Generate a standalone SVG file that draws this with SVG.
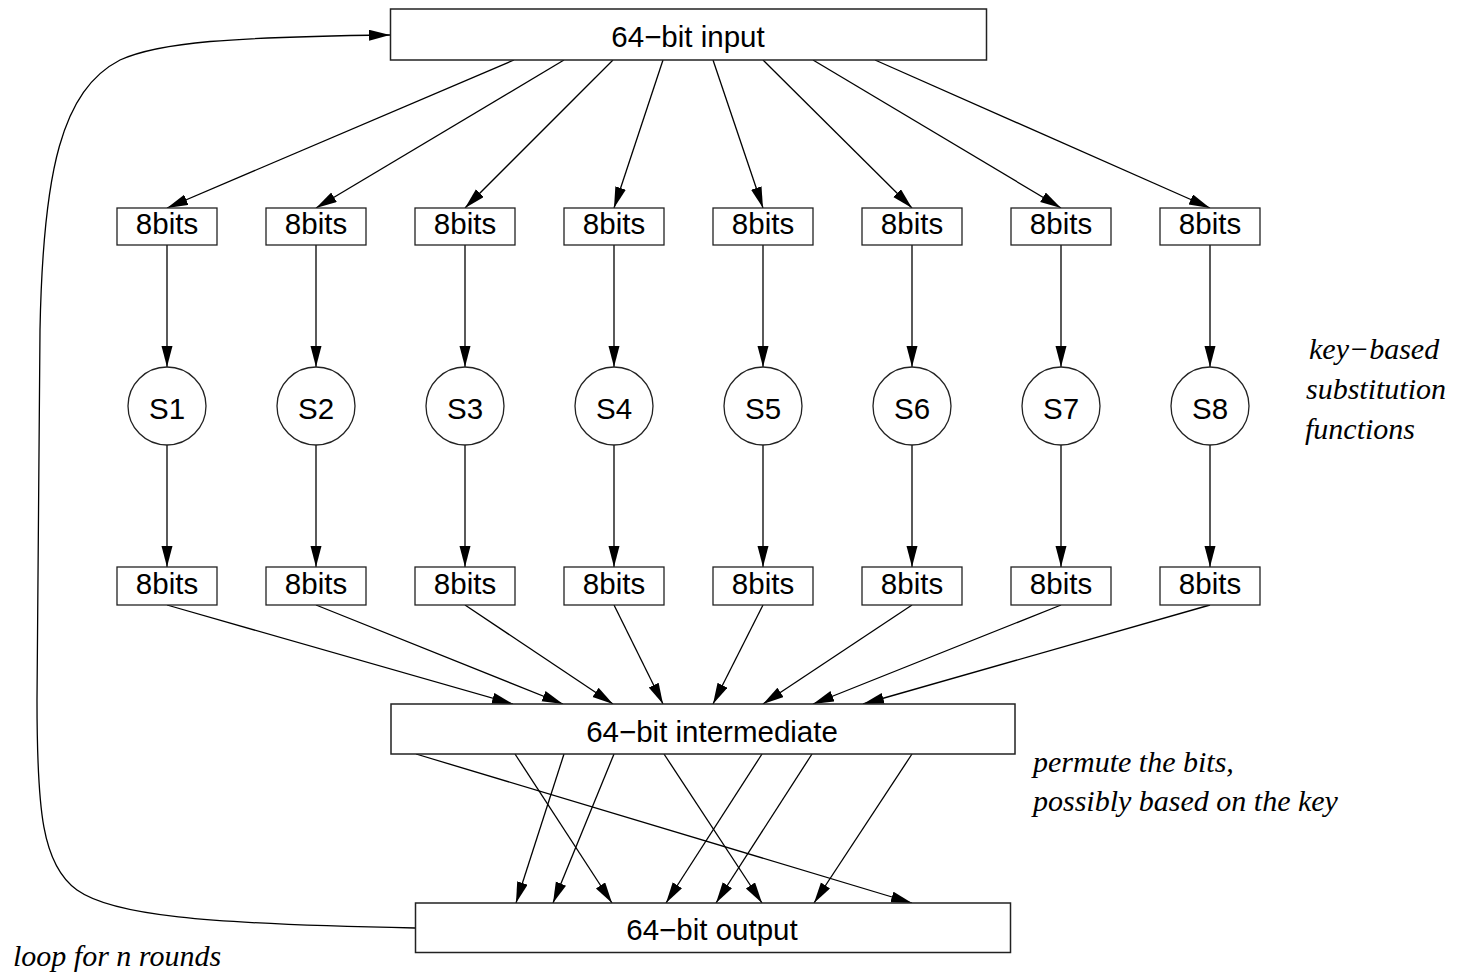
<svg xmlns="http://www.w3.org/2000/svg" width="1457" height="974" viewBox="0 0 1457 974">
<style>
.box{fill:#fff;stroke:#222;stroke-width:1.5}
.sb{fill:#fff;stroke:#222;stroke-width:1.3}
.lbl{font-family:"Liberation Sans",Arial,sans-serif;font-size:29.5px;fill:#000;text-anchor:middle}
.note{font-family:"Liberation Serif","Times New Roman",serif;font-style:italic;font-size:30px;fill:#000}
.c{fill:none;stroke:#000;stroke-width:1.3;marker-end:url(#ah)}
</style>
<defs>
<marker id="ah" markerUnits="userSpaceOnUse" markerWidth="22" markerHeight="12" refX="21" refY="5.5" orient="auto">
<path d="M0,0 L21,5.5 L0,11 z" fill="#000"/>
</marker>
</defs>
<rect width="1457" height="974" fill="#fff"/>
<g id="connectors">
<path class="c" d="M415,928 C200,924 112,915 77,890 C42,865 37,810 37,700 L40,330 C43,170 62,90 120,60 C160,42 230,37 390,35"/>
<path class="c" d="M514,60 L167,208"/>
<path class="c" d="M564,60 L316,208"/>
<path class="c" d="M613,60 L465,208"/>
<path class="c" d="M663,60 L614,208"/>
<path class="c" d="M713,60 L763,208"/>
<path class="c" d="M763,60 L912,208"/>
<path class="c" d="M813,60 L1061,208"/>
<path class="c" d="M875,60 L1210,208"/>
<path class="c" d="M167,245 L167,367"/>
<path class="c" d="M316,245 L316,367"/>
<path class="c" d="M465,245 L465,367"/>
<path class="c" d="M614,245 L614,367"/>
<path class="c" d="M763,245 L763,367"/>
<path class="c" d="M912,245 L912,367"/>
<path class="c" d="M1061,245 L1061,367"/>
<path class="c" d="M1210,245 L1210,367"/>
<path class="c" d="M167,445 L167,567"/>
<path class="c" d="M316,445 L316,567"/>
<path class="c" d="M465,445 L465,567"/>
<path class="c" d="M614,445 L614,567"/>
<path class="c" d="M763,445 L763,567"/>
<path class="c" d="M912,445 L912,567"/>
<path class="c" d="M1061,445 L1061,567"/>
<path class="c" d="M1210,445 L1210,567"/>
<path class="c" d="M167,605 L513,704"/>
<path class="c" d="M316,605 L563,704"/>
<path class="c" d="M465,605 L613,704"/>
<path class="c" d="M614,605 L663,704"/>
<path class="c" d="M763,605 L713,704"/>
<path class="c" d="M912,605 L763,704"/>
<path class="c" d="M1061,605 L813,704"/>
<path class="c" d="M1210,605 L863,704"/>
<path class="c" d="M416,754 L912,903"/>
<path class="c" d="M515,754 L612,903"/>
<path class="c" d="M564,754 L516,903"/>
<path class="c" d="M614,754 L553,903"/>
<path class="c" d="M664,754 L762,903"/>
<path class="c" d="M762,754 L666,903"/>
<path class="c" d="M812,754 L716,903"/>
<path class="c" d="M912,754 L814,903"/>
</g>
<g id="input"><rect class="box" x="390.5" y="9" width="596" height="51"/><text class="lbl" x="688" y="47">64−bit input</text></g>
<g id="in1"><rect class="sb" x="117" y="208" width="100" height="37"/><text class="lbl" x="167" y="234">8bits</text></g>
<g id="in2"><rect class="sb" x="266" y="208" width="100" height="37"/><text class="lbl" x="316" y="234">8bits</text></g>
<g id="in3"><rect class="sb" x="415" y="208" width="100" height="37"/><text class="lbl" x="465" y="234">8bits</text></g>
<g id="in4"><rect class="sb" x="564" y="208" width="100" height="37"/><text class="lbl" x="614" y="234">8bits</text></g>
<g id="in5"><rect class="sb" x="713" y="208" width="100" height="37"/><text class="lbl" x="763" y="234">8bits</text></g>
<g id="in6"><rect class="sb" x="862" y="208" width="100" height="37"/><text class="lbl" x="912" y="234">8bits</text></g>
<g id="in7"><rect class="sb" x="1011" y="208" width="100" height="37"/><text class="lbl" x="1061" y="234">8bits</text></g>
<g id="in8"><rect class="sb" x="1160" y="208" width="100" height="37"/><text class="lbl" x="1210" y="234">8bits</text></g>
<g id="s1"><circle class="sb" cx="167" cy="406" r="39"/><text class="lbl" x="167" y="419">S1</text></g>
<g id="s2"><circle class="sb" cx="316" cy="406" r="39"/><text class="lbl" x="316" y="419">S2</text></g>
<g id="s3"><circle class="sb" cx="465" cy="406" r="39"/><text class="lbl" x="465" y="419">S3</text></g>
<g id="s4"><circle class="sb" cx="614" cy="406" r="39"/><text class="lbl" x="614" y="419">S4</text></g>
<g id="s5"><circle class="sb" cx="763" cy="406" r="39"/><text class="lbl" x="763" y="419">S5</text></g>
<g id="s6"><circle class="sb" cx="912" cy="406" r="39"/><text class="lbl" x="912" y="419">S6</text></g>
<g id="s7"><circle class="sb" cx="1061" cy="406" r="39"/><text class="lbl" x="1061" y="419">S7</text></g>
<g id="s8"><circle class="sb" cx="1210" cy="406" r="39"/><text class="lbl" x="1210" y="419">S8</text></g>
<g id="out1"><rect class="sb" x="117" y="567" width="100" height="38"/><text class="lbl" x="167" y="594">8bits</text></g>
<g id="out2"><rect class="sb" x="266" y="567" width="100" height="38"/><text class="lbl" x="316" y="594">8bits</text></g>
<g id="out3"><rect class="sb" x="415" y="567" width="100" height="38"/><text class="lbl" x="465" y="594">8bits</text></g>
<g id="out4"><rect class="sb" x="564" y="567" width="100" height="38"/><text class="lbl" x="614" y="594">8bits</text></g>
<g id="out5"><rect class="sb" x="713" y="567" width="100" height="38"/><text class="lbl" x="763" y="594">8bits</text></g>
<g id="out6"><rect class="sb" x="862" y="567" width="100" height="38"/><text class="lbl" x="912" y="594">8bits</text></g>
<g id="out7"><rect class="sb" x="1011" y="567" width="100" height="38"/><text class="lbl" x="1061" y="594">8bits</text></g>
<g id="out8"><rect class="sb" x="1160" y="567" width="100" height="38"/><text class="lbl" x="1210" y="594">8bits</text></g>
<g id="intermediate"><rect class="box" x="391" y="704" width="624" height="50"/><text class="lbl" x="712" y="742">64−bit intermediate</text></g>
<g id="output"><rect class="box" x="415.5" y="903" width="595" height="49.5"/><text class="lbl" x="712" y="940">64−bit output</text></g>
<g id="notes">
<text class="note" x="1309" y="359">key−based</text>
<text class="note" x="1306" y="399">substitution</text>
<text class="note" x="1305" y="439">functions</text>
<text class="note" x="1033" y="772">permute the bits,</text>
<text class="note" x="1033" y="811">possibly based on the key</text>
<text class="note" x="13" y="966">loop for n rounds</text>
</g>
</svg>
